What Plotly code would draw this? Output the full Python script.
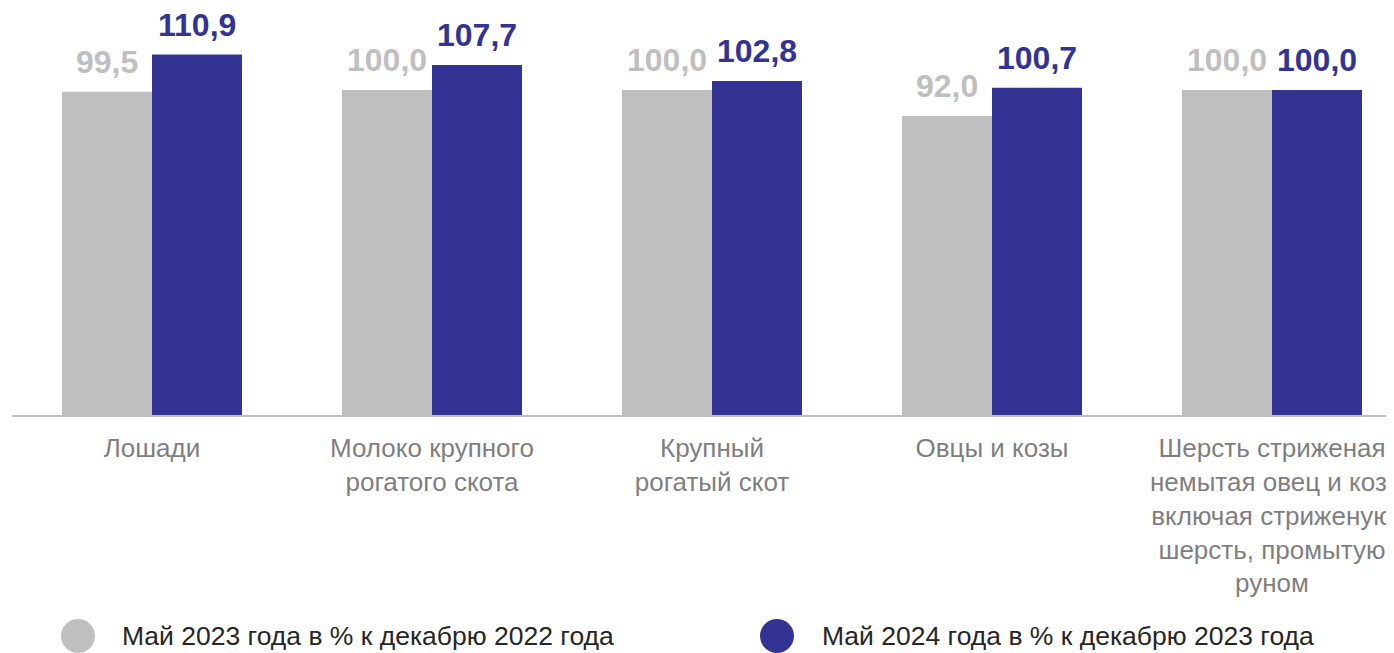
import plotly.graph_objects as go

categories = [
    "Лошади",
    "Молоко крупного<br>рогатого скота",
    "Крупный<br>рогатый скот",
    "Овцы и козы",
    "Шерсть стриженая<br>немытая овец и коз,<br>включая стриженую<br>шерсть, промытую<br>руном",
]
series_names = [
    "Май 2023 года в % к декабрю 2022 года",
    "Май 2024 года в % к декабрю 2023 года",
]
values_2023 = [99.5, 100.0, 100.0, 92.0, 100.0]
values_2024 = [110.9, 107.7, 102.8, 100.7, 100.0]
colors = ["#BFBFBF", "#333394"]

# page body has an 8px margin: figure is drawn from (8, 8)
OFF = 8
W, H = 1394 - OFF, 653 - OFF
ml, mr, mt, mb = 12 - OFF, 0, 0, 238
pw, ph = W - ml - mr, H - mt - mb
px_per_unit = 3.25
cat_px = 280.0
bar_px = 90.0

def fmt(v):
    return f"{v:.1f}".replace(".", ",")

x_idx = list(range(len(categories)))
fig = go.Figure()
for k, (name, vals, col) in enumerate(zip(series_names, [values_2023, values_2024], colors)):
    fig.add_trace(go.Bar(
        x=x_idx, y=vals, name=name,
        marker=dict(color=col, line=dict(width=0)),
        showlegend=False, cliponaxis=False,
    ))
    shift = (-0.5 if k == 0 else 0.5) * bar_px
    for xi, v in zip(x_idx, vals):
        fig.add_annotation(
            x=xi, y=v, xref="x", yref="y", xshift=shift, yshift=10,
            xanchor="center", yanchor="bottom", showarrow=False,
            text=f"<b>{fmt(v)}</b>",
            font=dict(family="Liberation Sans, Arial", size=32, color=col),
        )

span = pw / cat_px
fig.update_layout(
    width=W, height=H,
    margin=dict(l=ml, r=mr, t=mt, b=mb),
    paper_bgcolor="white", plot_bgcolor="white",
    barmode="group", bargap=(cat_px - 2 * bar_px) / cat_px, bargroupgap=0,
    font=dict(family="Liberation Sans, Arial", color="#7F7F7F"),
    xaxis=dict(
        tickmode="array", tickvals=x_idx, ticktext=categories,
        range=[-0.5, -0.5 + span], showline=True, linecolor="#BFBFBF", linewidth=2,
        showgrid=False, zeroline=False, ticks="", automargin=False,
        ticklabelstandoff=9, ticklabeloverflow="allow",
        tickfont=dict(size=26, color="#7F7F7F"),
    ),
    yaxis=dict(range=[0, ph / px_per_unit], visible=False, showgrid=False, zeroline=False),
)

# legend drawn manually with circle markers
leg_cy = 636 - OFF
leg_d = 34
leg_items = [(78 - OFF, 120 - OFF), (777 - OFF, 820 - OFF)]
for (cx, tx), name, col in zip(leg_items, series_names, colors):
    fig.add_shape(
        type="circle", xref="paper", yref="paper",
        x0=(cx - leg_d / 2 - ml) / pw, x1=(cx + leg_d / 2 - ml) / pw,
        y0=(ph - (leg_cy + leg_d / 2)) / ph, y1=(ph - (leg_cy - leg_d / 2)) / ph,
        fillcolor=col, line=dict(width=0),
    )
    fig.add_annotation(
        xref="paper", yref="paper", x=(tx - ml) / pw, y=(ph - leg_cy) / ph,
        xanchor="left", yanchor="middle", showarrow=False, text=name,
        font=dict(size=26.5, color="#262626", family="Liberation Sans, Arial"),
    )

fig.write_html("out.html")
